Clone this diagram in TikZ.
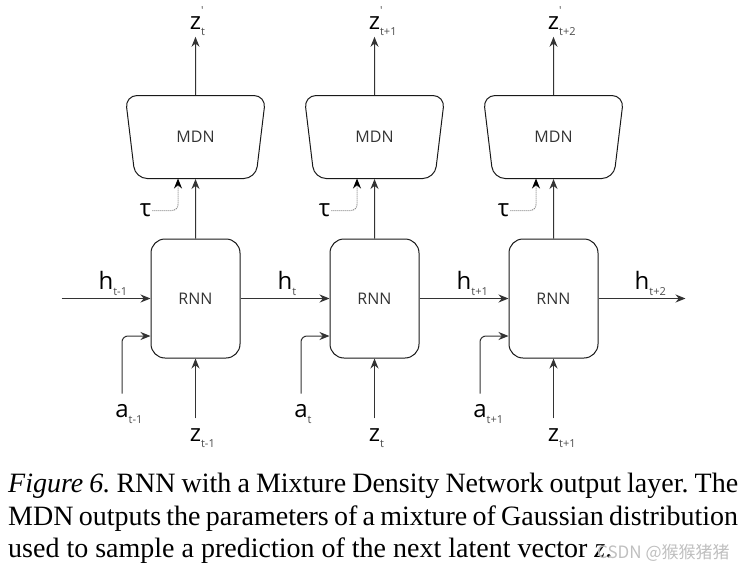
\documentclass[tikz,border=0pt]{standalone}
\usepackage{fontspec}
\setmainfont{Liberation Serif}
\newfontfamily\diagfont{Open Sans}
\newfontfamily\cjkfont{Noto Sans CJK SC}
\usetikzlibrary{arrows.meta,positioning,calc,shapes.geometric}

\newcommand{\labfont}{\diagfont\fontsize{24}{24}\selectfont}
\newcommand{\subfont}{\diagfont\fontsize{11}{11}\selectfont\color{black!70}}
\newcommand{\sym}[2]{#1\rlap{\raisebox{-6pt}{\subfont #2}}}
\newcommand{\psym}[2]{#1\rlap{\raisebox{15pt}{\subfont '}}\rlap{\raisebox{-6pt}{\subfont #2}}}

\tikzset{
	rnnbox/.style={draw=black!90, line width=1pt, rounded corners=14pt,
		minimum width=89pt, minimum height=119pt, inner sep=0pt,
		font=\diagfont\fontsize{16}{16}\selectfont, text=black!80},
	mdnbox/.style={trapezium, shape border rotate=180,
		trapezium left angle=74.5, trapezium right angle=74.5,
		trapezium stretches=true, minimum width=141pt, minimum height=83pt,
		draw=black!90, line width=1pt, rounded corners=12pt, inner sep=0pt,
		font=\diagfont\fontsize{16}{16}\selectfont, text=black!80},
	lbl/.style={inner sep=1pt, font=\labfont},
	inlbl/.style={lbl, inner ysep=10pt},
	flow/.style={draw=black!80, line width=1pt, -{Stealth[length=10pt, width=8pt]}},
	hint/.style={draw=black!45, line width=1pt, densely dotted, rounded corners=6pt,
		-{Stealth[length=10pt, width=8pt, black]}},
	captext/.style={anchor=base west, inner sep=0pt, font=\fontsize{28}{33}\selectfont\frenchspacing}
}

\begin{document}
\begin{tikzpicture}[x=1pt, y=-1pt]
	\useasboundingbox (0,0) rectangle (748,573);

	% RNN cells
	\node[rnnbox] (rnn1) at (195.5,298.5) {RNN};
	\node[rnnbox, right=89pt of rnn1] (rnn2) {RNN};
	\node[rnnbox, right=89pt of rnn2] (rnn3) {RNN};

	% MDN heads
	\node[mdnbox] (mdn1) at ($(rnn1.north)+(0,-101.5)$) {MDN};
	\node[mdnbox] (mdn2) at ($(rnn2.north)+(0,-101.5)$) {MDN};
	\node[mdnbox] (mdn3) at ($(rnn3.north)+(0,-101.5)$) {MDN};

	\node[lbl, anchor=base] (zo1) at ($(mdn1.center)+(0,-107.5)$) {\psym{z}{t}};
	\node[lbl, anchor=base] (zo2) at ($(mdn2.center)+(0,-107.5)$) {\psym{z}{t+1}};
	\node[lbl, anchor=base] (zo3) at ($(mdn3.center)+(0,-107.5)$) {\psym{z}{t+2}};

	\draw[flow] (mdn1) -- (zo1);
	\draw[flow] (mdn2) -- (zo2);
	\draw[flow] (mdn3) -- (zo3);

	\draw[flow] (rnn1) -- (mdn1);
	\draw[flow] (rnn2) -- (mdn2);
	\draw[flow] (rnn3) -- (mdn3);

	% temperature
	\node[lbl] (tau1) at ($(rnn1.north)+(-50,-28)$) {τ};
	\node[lbl] (tau2) at ($(rnn2.north)+(-50,-28)$) {τ};
	\node[lbl] (tau3) at ($(rnn3.north)+(-50,-28)$) {τ};
	\coordinate (taue1) at ($(mdn1.center)+(-17.5,41.5)$);
	\coordinate (taue2) at ($(mdn2.center)+(-17.5,41.5)$);
	\coordinate (taue3) at ($(mdn3.center)+(-17.5,41.5)$);
	\draw[hint] (tau1.east) -| (taue1);
	\draw[hint] (tau2.east) -| (taue2);
	\draw[hint] (tau3.east) -| (taue3);

	% hidden state
	\coordinate (hin) at ($(rnn1.west)+(-89,0)$);
	\coordinate (hout) at ($(rnn3.east)+(87,0)$);
	\draw[flow] (hin) -- node[lbl, above=1pt] (h0) {\sym{h}{t-1}} (rnn1);
	\draw[flow] (rnn1) -- node[lbl, above=1pt] (h1) {\sym{h}{t}} (rnn2);
	\draw[flow] (rnn2) -- node[lbl, above=1pt] (h2) {\sym{h}{t+1}} (rnn3);
	\draw[flow] (rnn3) -- node[lbl, above=1pt] (h3) {\sym{h}{t+2}} (hout);

	% actions
	\node[inlbl, anchor=base] (a1) at ($(rnn1.center)+(-73.5,118.5)$) {\sym{a}{t-1}};
	\node[inlbl, anchor=base] (a2) at ($(rnn2.center)+(-73.5,118.5)$) {\sym{a}{t}};
	\node[inlbl, anchor=base] (a3) at ($(rnn3.center)+(-73.5,118.5)$) {\sym{a}{t+1}};
	\draw[flow, rounded corners=6pt] (a1) |- ($(rnn1.west)+(0,37.5)$);
	\draw[flow, rounded corners=6pt] (a2) |- ($(rnn2.west)+(0,37.5)$);
	\draw[flow, rounded corners=6pt] (a3) |- ($(rnn3.west)+(0,37.5)$);

	% latents
	\node[inlbl, anchor=base] (z1) at ($(rnn1.center)+(0,143)$) {\sym{z}{t-1}};
	\node[inlbl, anchor=base] (z2) at ($(rnn2.center)+(0,143)$) {\sym{z}{t}};
	\node[inlbl, anchor=base] (z3) at ($(rnn3.center)+(0,143)$) {\sym{z}{t+1}};
	\draw[flow] (z1) -- (rnn1);
	\draw[flow] (z2) -- (rnn2);
	\draw[flow] (z3) -- (rnn3);

	% caption
	\node[captext] (cap1) at (8,492) {\makebox[730pt][s]{\textit{Figure 6.} RNN with a Mixture Density Network output layer. The}};
	\node[captext] (cap2) at (8,525) {\makebox[730pt][s]{MDN outputs the parameters of a mixture of Gaussian distribution}};
	\node[captext] (cap3) at (8,557) {used to sample a prediction of the next latent vector \textit{z}.};
	\node[anchor=base west, inner sep=0pt, text=black!25, font=\cjkfont\fontsize{17}{17}\selectfont] (mark) at (597,558) {CSDN @猴猴猪猪};
\end{tikzpicture}
\end{document}
